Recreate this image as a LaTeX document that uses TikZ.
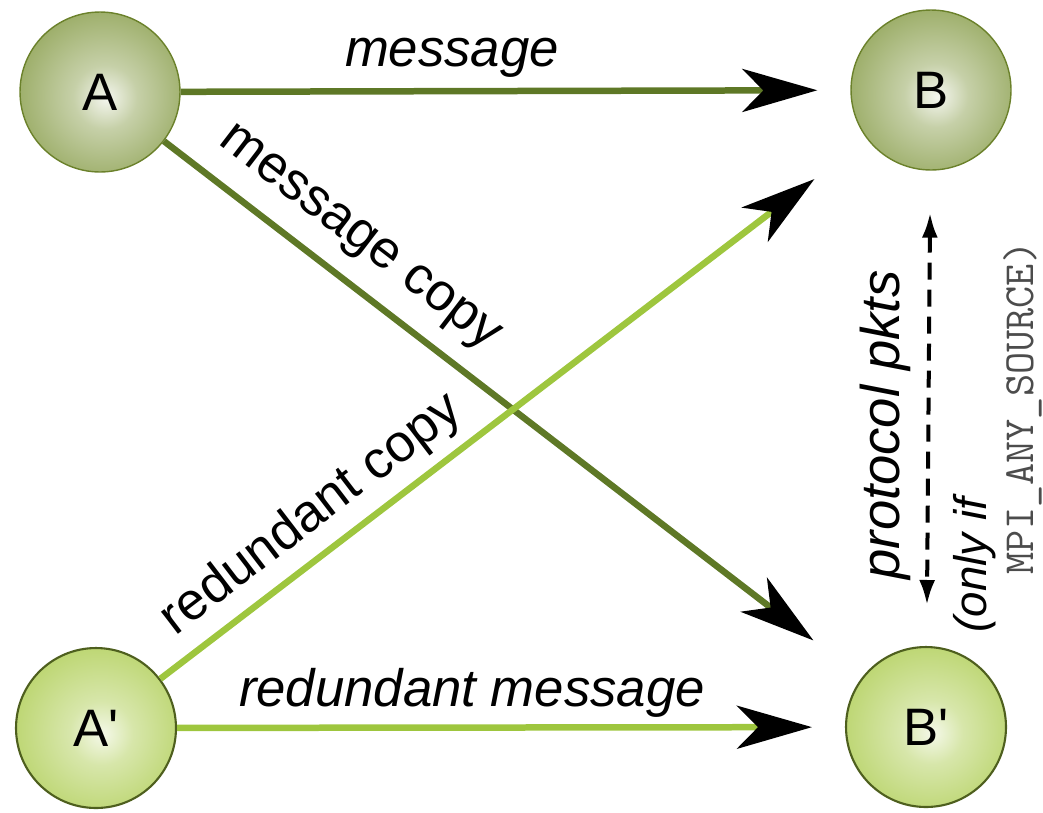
\documentclass[tikz,border=0pt]{standalone}
\usepackage{fontspec}
\setmainfont{Liberation Sans}
\usetikzlibrary{arrows.meta,positioning}

\definecolor{olivedark}{HTML}{5E7826}
\definecolor{olivelight}{HTML}{9EC63E}
\definecolor{balldark}{HTML}{778F30}
\definecolor{balllight}{HTML}{A6C842}
\definecolor{ballrim}{HTML}{4E5F1E}
\pgfdeclareradialshading{balldarkshade}{\pgfpoint{2bp}{-2bp}}{color(0bp)=(white!92!balldark); color(10bp)=(white!58!balldark); color(30bp)=(white!22!balldark); color(50bp)=(balldark)}
\pgfdeclareradialshading{balllightshade}{\pgfpoint{2bp}{-2bp}}{color(0bp)=(white!88!balllight); color(10bp)=(white!55!balllight); color(30bp)=(white!20!balllight); color(50bp)=(balllight)}

\begin{document}
\begin{tikzpicture}[x=0.02cm,y=-0.02cm,
  big/.style={font=\fontsize{30}{36}\selectfont},
  proc/.style={circle,minimum size=3.2cm,inner sep=0pt,big},
  procA/.style={proc,shading=balldarkshade,draw=balldark!90!black,line width=0.8pt},
  procR/.style={proc,shading=balllightshade,draw=ballrim,line width=1.2pt},
  msg/.style={line width=0.13cm,
    -{Stealth[length=1.5cm,width=0.86cm,inset=0.42cm,color=black]}},
  lbl/.style={big,inner sep=0pt}]
  \useasboundingbox (0,0) rectangle (1043,812);

  \node[procA] (A) at (100,92) {A};
  \node[procA] (B) at (931,90) {B};
  \node[procR] (A') at (96,728) {A\textquotesingle};
  \node[procR] (B') at (926,727) {B\textquotesingle};

  % original and redundant traffic
  \draw[msg,olivedark,shorten >=1.22cm] (A) -- (B');
  \draw[msg,olivelight,shorten >=1.32cm] (A') -- (B);
  \draw[msg,olivedark,shorten >=0.66cm] (A) -- (B);
  \draw[msg,olivelight,shorten >=0.66cm] (A') -- (B');
  \draw[line width=0.08cm,dash pattern=on 0.34cm off 0.2cm,
    {Latex[length=0.5cm,width=0.32cm]}-{Latex[length=0.5cm,width=0.32cm]},
    shorten <=0.84cm,shorten >=0.82cm] (B) -- (B');

  \node[lbl,font=\fontsize{30}{36}\selectfont\itshape] (msgtext) at (452,58) {message};
  \node[lbl,rotate=-37.5] (copytext) at (358,240) {message copy};
  \node[lbl,rotate=37.4] (redcopytext) at (312,515) {redundant copy};
  \node[lbl,font=\fontsize{30}{36}\selectfont\itshape] (redmsgtext) at (472,693) {redundant message};
  \node[lbl,rotate=90,font=\fontsize{31}{36}\selectfont\itshape] (prototext) at (885,425) {protocol pkts};
  \node[lbl,rotate=90,font=\fontsize{26}{30}\selectfont\itshape] (onlytext) at (975,565) {(only if};
  \node[lbl,rotate=90,font=\fontsize{24.5}{28}\selectfont\ttfamily,text=black!70] (srctext) at (1023,408) {MPI\_ANY\_SOURCE)};
\end{tikzpicture}
\end{document}
